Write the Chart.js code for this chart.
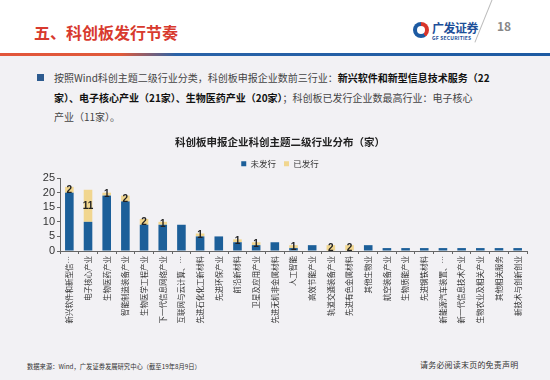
<!DOCTYPE html>
<html><head><meta charset="utf-8">
<script src="https://cdn.jsdelivr.net/npm/chart.js@4"></script>
<style>
html,body{margin:0;padding:0;}
body{width:550px;height:380px;position:relative;overflow:hidden;background:#f2f1f4;font-family:"Noto Sans CJK SC","Noto Sans",sans-serif;}
#top{position:absolute;left:0;top:0;width:550px;height:53px;background:#fff;}
#line{position:absolute;left:0;top:53px;width:550px;height:3px;background:linear-gradient(90deg,#e2553a 0%,#e05a3a 22%,#2a63a8 32%,#1d5aa2 100%);}
#title{position:absolute;left:34px;top:20px;font-size:16px;font-weight:bold;color:#d83a2e;letter-spacing:0px;}
#logo{position:absolute;left:413px;top:22px;width:16px;height:16px;border-radius:50%;background:conic-gradient(#d8352a 0 40%,#1d5aa2 40% 100%);}
#logo2{position:absolute;left:417px;top:26px;width:8px;height:8px;border-radius:50%;background:#fff;}
#gf{position:absolute;left:432px;top:19px;font-size:12px;font-weight:bold;color:#1d4f99;letter-spacing:-0.5px;}
#gfs{position:absolute;left:432px;top:34px;font-size:5px;font-weight:bold;color:#1d4f99;letter-spacing:0.2px;}
#slash{position:absolute;left:483px;top:-2px;width:1px;height:46px;background:#bbb;transform:rotate(22deg);transform-origin:50% 50%;}
#page{position:absolute;left:497px;top:17px;font-size:12px;font-weight:bold;color:#888;}
#bullet{position:absolute;left:37px;top:74px;width:7px;height:7px;background:#2d5b8f;}
#text{position:absolute;left:54px;top:68px;font-size:10px;line-height:19.5px;color:#444;white-space:nowrap;letter-spacing:0px;}
#text b{color:#111;}
#src{position:absolute;left:27px;top:362px;font-size:6.3px;color:#333;}
#disc{position:absolute;left:420px;top:359px;font-size:8px;color:#333;letter-spacing:0.2px;}
#wrap{position:absolute;left:0;top:130px;width:550px;height:197px;}
</style></head>
<body>
<div id="top"></div>
<div id="line"></div>
<div id="title">五、科创板发行节奏</div>
<div id="logo"></div><div id="logo2"></div>
<div id="gf">广发证券</div>
<div id="gfs">GF SECURITIES</div>
<div id="slash"></div>
<div id="page">18</div>
<div id="bullet"></div>
<div id="text">按照Wind科创主题二级行业分类，科创板申报企业数前三行业：<b>新兴软件和新型信息技术服务（22</b><br><b>家）、电子核心产业（21家）、生物医药产业（20家）</b>；科创板已发行企业数最高行业：电子核心<br>产业（11家）。</div>
<div id="wrap"><canvas id="c" width="550" height="197"></canvas></div>
<div id="src">数据来源：Wind，广发证券发展研究中心（截至19年8月9日）</div>
<div id="disc">请务必阅读末页的免责声明</div>
<script>
const chartTitle = "科创板申报企业科创主题二级行业分布（家）";
const seriesNames = ["未发行", "已发行"];
const categories = [
  "新兴软件和新型信…", "电子核心产业", "生物医药产业", "智能制造装备产业", "生物医学工程产业",
  "下一代信息网络产业", "互联网与云计算、…", "先进石化化工新材料", "先进环保产业", "前沿新材料",
  "卫星及应用产业", "先进无机非金属材料", "人工智能", "高效节能产业", "轨道交通装备产业",
  "先进有色金属材料", "其他生物业", "航空装备产业", "生物质能产业", "先进钢铁材料",
  "新能源汽车装置、…", "新一代信息技术产业", "生物农业及相关产业", "其他相关服务", "新技术与创新创业"
];
const unissued = [20, 10, 19, 17, 9, 9, 9, 5, 5, 3, 2, 3, 1, 2, 0, 0, 2, 1, 1, 1, 1, 1, 1, 1, 1];
const issued   = [2, 11, 1, 2, 2, 1, 0, 1, 0, 1, 1, 0, 1, 0, 2, 2, 0, 0, 0, 0, 0, 0, 0, 0, 0];
const yMin = 0, yMax = 25, yStep = 5;

const FONT = '"Noto Sans CJK SC", sans-serif';

const segLabels = {
  id: 'segLabels',
  afterDatasetsDraw(chart) {
    const ctx = chart.ctx;
    const meta = chart.getDatasetMeta(1);
    ctx.save();
    ctx.font = 'bold 10px "Liberation Sans", Arial, sans-serif';
    ctx.fillStyle = '#222';
    ctx.textAlign = 'center';
    ctx.textBaseline = 'middle';
    meta.data.forEach((bar, i) => {
      const v = chart.data.datasets[1].data[i];
      if (!v) return;
      const p = bar.getProps(['x', 'y', 'base'], true);
      ctx.fillText(String(v), p.x, (p.y + p.base) / 2 + 0.5);
    });
    ctx.restore();
  }
};
const legendShift = {
  id: 'legendShift',
  afterLayout(chart) {
    const lg = chart.legend;
    if (lg && lg.legendHitBoxes) lg.legendHitBoxes.forEach(h => { h.left -= 58; });
  }
};

new Chart(document.getElementById('c'), {
  type: 'bar',
  data: {
    labels: categories,
    datasets: [
      { label: seriesNames[0], data: unissued, backgroundColor: '#1c5f99', barPercentage: 0.46, categoryPercentage: 1 },
      { label: seriesNames[1], data: issued, backgroundColor: '#f1d68f', barPercentage: 0.46, categoryPercentage: 1 }
    ]
  },
  options: {
    responsive: false,
    animation: false,
    devicePixelRatio: 1,
    layout: { padding: { left: 33, right: 23, top: 0, bottom: 0 } },
    plugins: {
      title: { display: true, text: chartTitle, color: '#222', font: { family: FONT, size: 10.5, weight: 'bold' }, padding: { top: 6, bottom: 3 } },
      legend: {
        display: true,
        labels: { color: '#333', font: { family: FONT, size: 8.5 }, boxWidth: 5, boxHeight: 5, padding: 8 }
      },
      tooltip: { enabled: false }
    },
    scales: {
      x: {
        stacked: true,
        grid: { display: true, drawOnChartArea: false, drawTicks: true, tickLength: 3, color: '#666' },
        border: { display: true, color: '#666' },
        ticks: { color: '#333', font: { family: FONT, size: 7.5 }, minRotation: 90, maxRotation: 90, autoSkip: false, padding: 2 },
        afterFit(s) { s.height = 76; }
      },
      y: {
        stacked: true,
        min: yMin, max: yMax,
        grid: { display: true, drawOnChartArea: false, drawTicks: true, tickLength: 3, color: '#666' },
        border: { display: true, color: '#666' },
        ticks: { stepSize: yStep, autoSkip: false, color: '#333', font: { family: '"Liberation Sans", Arial, sans-serif', size: 11 }, padding: 2 },
        afterFit(s) { s.width = 27; }
      }
    }
  },
  plugins: [segLabels, legendShift]
});
</script>
</body></html>
